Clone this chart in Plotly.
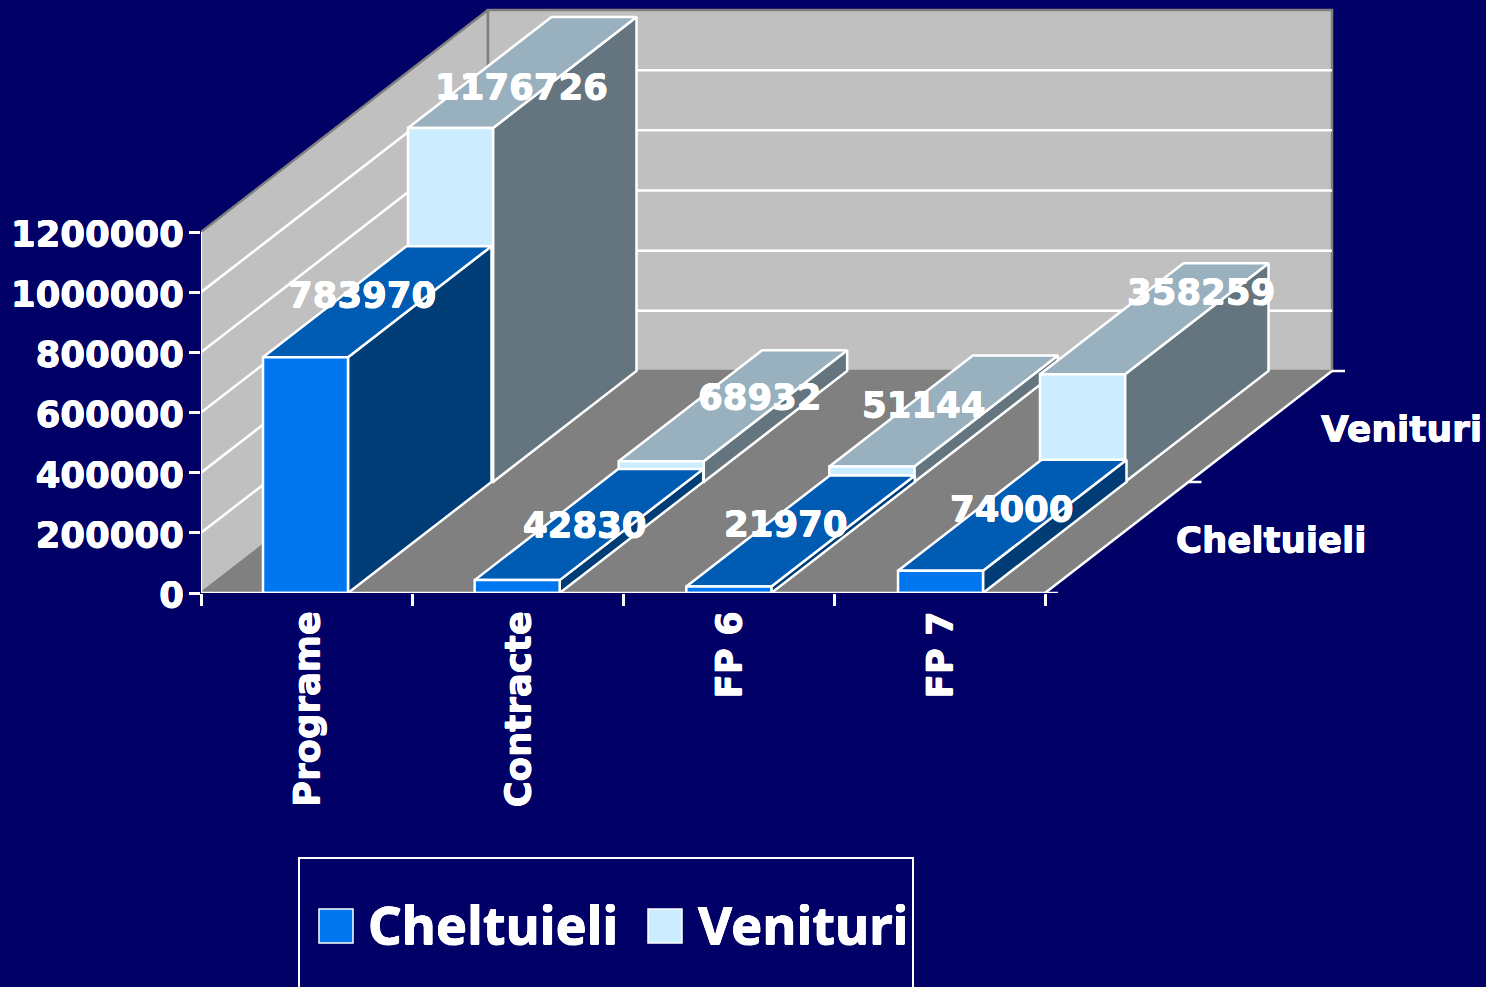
import plotly.graph_objects as go

categories = ["Programe", "Contracte", "FP 6", "FP 7"]
series_names = ["Cheltuieli", "Venituri"]
cheltuieli = [783970, 42830, 21970, 74000]
venituri = [1176726, 68932, 51144, 358259]
value_ticks = [0, 200000, 400000, 600000, 800000, 1000000, 1200000]

W, H = 1486, 987
LEFT, FLOOR_Y = 201, 593
PX_CAT = 211.0
PX_VAL = 361.0 / 1200000
DEPTH_DX = 287 / PX_CAT
DEPTH_DY = 222 / PX_VAL
BAR_START = {0: 62 / PX_CAT, 1: 63.5 / PX_CAT}
BAR_PITCH = {0: 211.67 / PX_CAT, 1: 210.67 / PX_CAT}
LABEL_START = 62.5 / PX_CAT
BAR_W = 85 / PX_CAT
YMAX = max(value_ticks)
NC = len(categories)
BG = "#000066"
FONT = "DejaVu Sans"
LW = 2.5
SHADOW = "0.4px 0 0 white, -0.4px 0 0 white, 0 0.5px 0 white, 0 -0.5px 0 white"

FACES = [
    dict(front="#0077EE", top="#005BB3", side="#003D77"),
    dict(front="#CCECFF", top="#99B1BF", side="#65757F"),
]
LABEL_SHIFT = [
    [(-15.5, -7.5), (-4, -0.6), (-13.5, -7), (1, -7)],
    [(0.5, 13.5), (28, -9), (-19.5, -7), (47, -27)],
]


def text_font(size, family=FONT):
    return dict(family=family, size=size, color="white", weight=700, shadow=SHADOW)


def proj(c, v, d):
    return c + d * DEPTH_DX, v + d * DEPTH_DY


def poly(points, fill, line=None, width=LW):
    xs, ys = zip(*[proj(*p) for p in points])
    return go.Scatter(
        x=list(xs) + [xs[0]], y=list(ys) + [ys[0]], mode="lines", fill="toself",
        fillcolor=fill, line=dict(color=line or fill, width=width),
        hoverinfo="skip", showlegend=False, cliponaxis=False,
    )


def seg(p, q, color="white", width=LW):
    a, b = proj(*p), proj(*q)
    return go.Scatter(
        x=[a[0], b[0]], y=[a[1], b[1]], mode="lines", line=dict(color=color, width=width),
        hoverinfo="skip", showlegend=False, cliponaxis=False,
    )


fig = go.Figure()

# walls and floor
fig.add_trace(poly([(0, 0, 0), (0, YMAX, 0), (0, YMAX, 1), (0, 0, 1)], "#C0C0C0", "#808080", 2.5))
fig.add_trace(poly([(0, 0, 1), (0, YMAX, 1), (NC, YMAX, 1), (NC, 0, 1)], "#C0C0C0", "#808080", 2.5))
for v in value_ticks[1:-1]:
    fig.add_trace(seg((0, v, 0), (0, v, 1)))
    fig.add_trace(seg((0, v, 1), (NC, v, 1)))
fig.add_trace(poly([(0, 0, 0), (NC, 0, 0), (NC, 0, 1), (0, 0, 1)], "#808080", "#808080", 1))

# bars, back row first
for s, vals, d0 in ((1, venituri, 0.5), (0, cheltuieli, 0.0)):
    d1 = d0 + 0.5
    for i, v in enumerate(vals):
        a = i * BAR_PITCH[s] + BAR_START[s]
        b = a + BAR_W
        col = FACES[s]
        fig.add_trace(poly([(b, 0, d0), (b, v, d0), (b, v, d1), (b, 0, d1)], col["side"], "white"))
        fig.add_trace(poly([(a, v, d0), (b, v, d0), (b, v, d1), (a, v, d1)], col["top"], "white"))
        fig.add_trace(poly([(a, 0, d0), (b, 0, d0), (b, v, d0), (a, v, d0)], col["front"], "white"))

# axis lines and the ticks of the depth axis
fig.add_trace(seg((0, 0, 0), (0, YMAX, 0)))
fig.add_trace(seg((0, 0, 0), (NC, 0, 0)))
fig.add_trace(seg((NC, 0, 0), (NC, 0, 1)))
for d in (0, 0.5, 1):
    fig.add_trace(seg((NC, 0, d), (NC + 13 / PX_CAT, 0, d)))

ann = []
for s, (vals, d0) in enumerate(((cheltuieli, 0.25), (venituri, 0.75))):
    for i, v in enumerate(vals):
        x, y = proj(i + LABEL_START + BAR_W / 2, v, d0)
        dx, dy = LABEL_SHIFT[s][i]
        ann.append(dict(x=x, y=y, xref="x", yref="y", text=f"{v}", showarrow=False,
                        xshift=dx, yshift=-dy, font=text_font(35.5)))

for name, d, dx, dy, size in ((series_names[0], 0.25, 154, -2, 35.5), (series_names[1], 0.75, 141, -2, 36)):
    x, y = proj(NC, 0, d)
    ann.append(dict(x=x, y=y, xref="x", yref="y", text=name, showarrow=False,
                    xshift=dx, yshift=dy, font=text_font(size)))

# legend
shapes = [dict(type="rect", xref="paper", yref="paper", x0=(299 - LEFT) / (W - LEFT), x1=(913 - LEFT) / (W - LEFT),
               y0=-1, y1=1 - 858 / FLOOR_Y, line=dict(color="white", width=2), fillcolor="rgba(0,0,0,0)")]
for name, col, x_sw, x_txt in ((series_names[0], FACES[0]["front"], 319, 366),
                               (series_names[1], FACES[1]["front"], 648, 696)):
    shapes.append(dict(type="rect", xref="paper", yref="paper",
                       x0=(x_sw - LEFT) / (W - LEFT), x1=(x_sw + 34 - LEFT) / (W - LEFT),
                       y0=1 - 943 / FLOOR_Y, y1=1 - 909 / FLOOR_Y,
                       line=dict(color="white", width=1.5), fillcolor=col))
    ann.append(dict(xref="paper", yref="paper", x=(x_txt - LEFT) / (W - LEFT), y=1 - 923 / FLOOR_Y,
                    xanchor="left", yanchor="middle", text=name, showarrow=False,
                    font=text_font(52.5, "Noto Sans")))

fig.update_layout(
    width=W, height=H, margin=dict(l=LEFT, r=0, t=0, b=H - FLOOR_Y),
    paper_bgcolor=BG, plot_bgcolor=BG, showlegend=False,
    annotations=ann, shapes=shapes,
    xaxis=dict(
        range=[0, (W - LEFT) / PX_CAT], showgrid=False, zeroline=False, showline=False,
        tickmode="array", tickvals=[i + 0.505 for i in range(NC)], ticktext=categories,
        tickangle=-90, ticks="", tickfont=text_font(35.5), ticklabelstandoff=10,
        minor=dict(tickmode="array", tickvals=list(range(NC + 1)), ticks="outside", ticklen=12,
                   tickwidth=2.5, tickcolor="white", showgrid=False),
    ),
    yaxis=dict(
        range=[0, FLOOR_Y / PX_VAL], showgrid=False, zeroline=False, showline=False,
        tickmode="array", tickvals=value_ticks, ticktext=[str(v) for v in value_ticks],
        ticks="outside", ticklen=11, tickwidth=2.5, tickcolor="white",
        tickfont=text_font(35.5), ticklabelstandoff=-2, ticklabelshift=2,
    ),
)

fig.write_html("out.html", config=dict(displayModeBar=False),
               post_script="document.body.style.margin='0';document.body.style.background='#000066';")
